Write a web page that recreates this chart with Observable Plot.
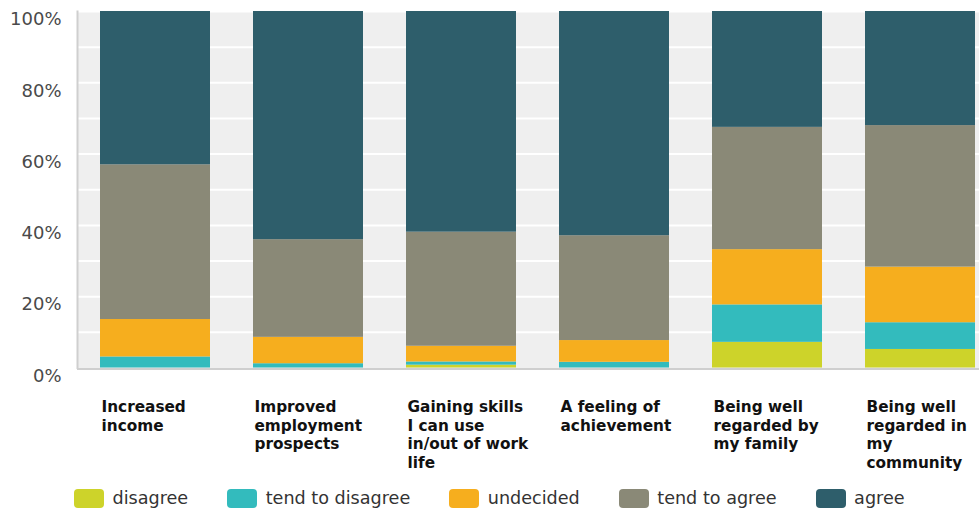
<!DOCTYPE html>
<html><head><meta charset="utf-8">
<script src="https://cdn.jsdelivr.net/npm/d3@7"></script>
<script src="https://cdn.jsdelivr.net/npm/@observablehq/plot@0.6"></script>
<style>
  html,body{margin:0;padding:0;background:#fff;}
  body{width:979px;height:508px;overflow:hidden;font-family:"DejaVu Sans",sans-serif;}
  #chart svg{display:block;}
  #legend{display:flex;align-items:center;margin-left:74px;margin-top:8px;font-size:17.6px;line-height:20px;color:#333;}
  .item{display:flex;align-items:center;margin-right:39px;}
  .sw{width:30px;height:19px;border-radius:4px;margin-right:8.5px;}
</style></head>
<body>
<div id="chart"></div>
<div id="legend"></div>
<script>
const categories = ["Increased income","Improved employment prospects","Gaining skills I can use in/out of work life","A feeling of achievement","Being well regarded by my family","Being well regarded in my community"];
const categoryLabels = ["Increased\nincome","Improved\nemployment\nprospects","Gaining skills\nI can use\nin/out of work\nlife","A feeling of\nachievement","Being well\nregarded by\nmy family","Being well\nregarded in\nmy\ncommunity"];
const responses = ["disagree","tend to disagree","undecided","tend to agree","agree"];
const colors = ["#cdd32a","#33bbbd","#f6ae1e","#8a8977","#2e5e6b"];
const disagree       = [0,    0,    0.8,  0,    7.2,  5.2];
const tendToDisagree = [3.1,  1.2,  0.9,  1.6,  10.5, 7.5];
const undecided      = [10.5, 7.4,  4.4,  6.1,  15.5, 15.6];
const tendToAgree    = [43.4, 27.4, 32.0, 29.4, 34.3, 39.7];
const agree          = [43.0, 64.0, 61.9, 62.9, 32.5, 32.0];
const yTicks = [0,20,40,60,80,100];
const gridTicks = [10,20,30,40,50,60,70,80,90,100];

const series = [disagree, tendToDisagree, undecided, tendToAgree, agree];
const data = [];
responses.forEach((r, j) => categories.forEach((c, i) => data.push({category: c, response: r, value: series[j][i]})));

const chart = Plot.plot({
  width: 979,
  height: 480,
  marginTop: 11,
  marginBottom: 112.5,
  marginLeft: 77,
  marginRight: 0,
  style: {fontFamily: "DejaVu Sans, sans-serif", background: "#fff"},
  x: {domain: categories, paddingInner: 0.28, paddingOuter: 0.0876, align: 0.86},
  y: {domain: [0, 100]},
  color: {domain: responses, range: colors},
  marks: [
    Plot.frame({fill: "#efefef", stroke: null}),
    Plot.ruleY(gridTicks, {stroke: "#ffffff", strokeWidth: 2}),
    Plot.barY(data, {x: "category", y: "value", fill: "response", order: responses}),
    Plot.frame({anchor: "left", stroke: "#cfcfcf", strokeWidth: 2}),
    Plot.ruleY([0], {stroke: "#cfcfcf", strokeWidth: 2, dy: 1}),
    Plot.axisY({ticks: yTicks, tickFormat: d => d + "%", tickSize: 0, tickPadding: 16, fontSize: 18, dy: 8, color: "#4a4a4a", label: null}),
    Plot.axisX({tickSize: 0, tickPadding: 31, tickFormat: d => categoryLabels[categories.indexOf(d)], textAnchor: "start", dx: -54, fontSize: 15.3, fontWeight: "bold", lineHeight: 1.21, color: "#111", label: null})
  ]
});
document.getElementById("chart").appendChild(chart);

const legend = document.getElementById("legend");
responses.forEach((r, i) => {
  const it = document.createElement("div");
  it.className = "item";
  const sw = document.createElement("div");
  sw.className = "sw";
  sw.style.background = colors[i];
  const t = document.createElement("span");
  t.textContent = r;
  it.appendChild(sw); it.appendChild(t);
  legend.appendChild(it);
});
</script>
</body></html>
